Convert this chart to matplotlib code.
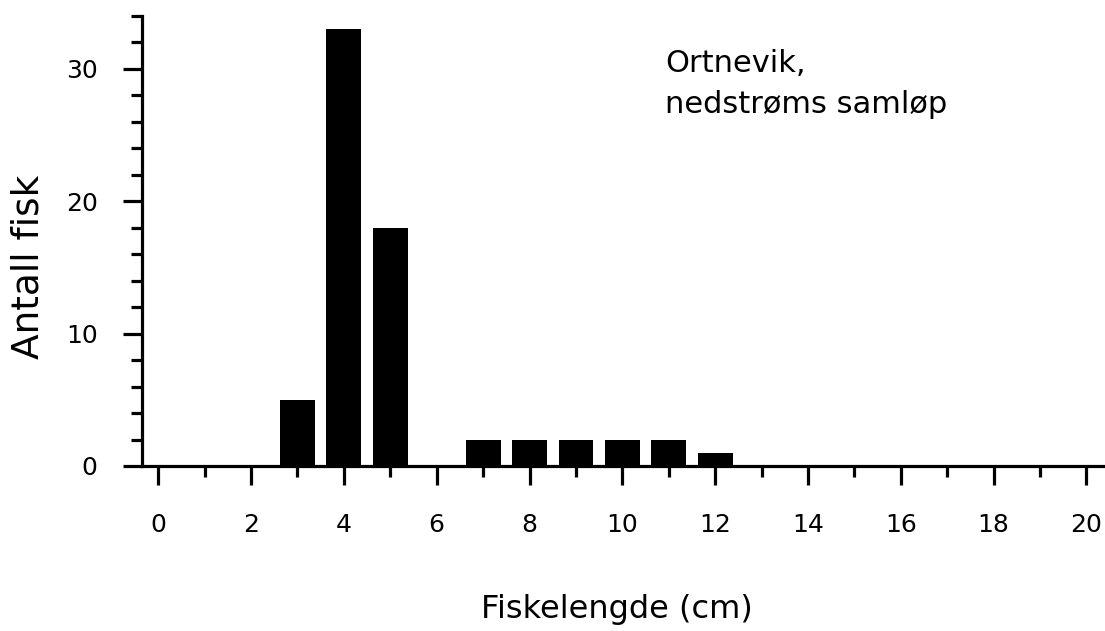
import matplotlib
matplotlib.use("Agg")
import matplotlib.pyplot as plt
from matplotlib.ticker import MultipleLocator

# data
lengde = [3, 4, 5, 7, 8, 9, 10, 11, 12]
antall = [5, 33, 18, 2, 2, 2, 2, 2, 1]
x_ticks = [0, 2, 4, 6, 8, 10, 12, 14, 16, 18, 20]
y_ticks = [0, 10, 20, 30]

plt.rcParams['font.family'] = ['DejaVu Sans']

fig = plt.figure(figsize=(11.05, 6.31), dpi=100)
ax = fig.add_axes([0.1285, 0.2615, 0.8715, 0.7135])

ax.bar(lengde, antall, width=0.75, color='black')

ax.set_xlim(-0.35, 20.4)
ax.set_ylim(0, 34)
ax.set_xticks(x_ticks)
ax.set_yticks(y_ticks)
ax.xaxis.set_minor_locator(MultipleLocator(1))
ax.yaxis.set_minor_locator(MultipleLocator(2))

for s in ['top', 'right']:
    ax.spines[s].set_visible(False)
for s in ['left', 'bottom']:
    ax.spines[s].set_linewidth(2.3)

ax.tick_params(which='major', length=14, width=2.3, labelsize=18)
ax.tick_params(which='minor', length=8, width=2.3)
ax.tick_params(axis='x', which='major', pad=20)
ax.tick_params(axis='y', which='major', pad=18)

ax.set_xlabel('Fiskelengde (cm)', fontsize=23)
ax.xaxis.set_label_coords(0.493, -0.285)
ax.set_ylabel('Antall fisk', fontsize=27)
ax.yaxis.set_label_coords(-0.118, 0.442)
ax.yaxis.label.set_va('center')

# tekstboks oppe til hoyre
ax.text(0.543, 0.875, 'Ortnevik,', transform=ax.transAxes,
        fontsize=22, va='baseline', ha='left')
ax.text(0.543, 0.784, 'nedstrøms samløp', transform=ax.transAxes,
        fontsize=22, va='baseline', ha='left')

fig.savefig('out.png', dpi=100)
